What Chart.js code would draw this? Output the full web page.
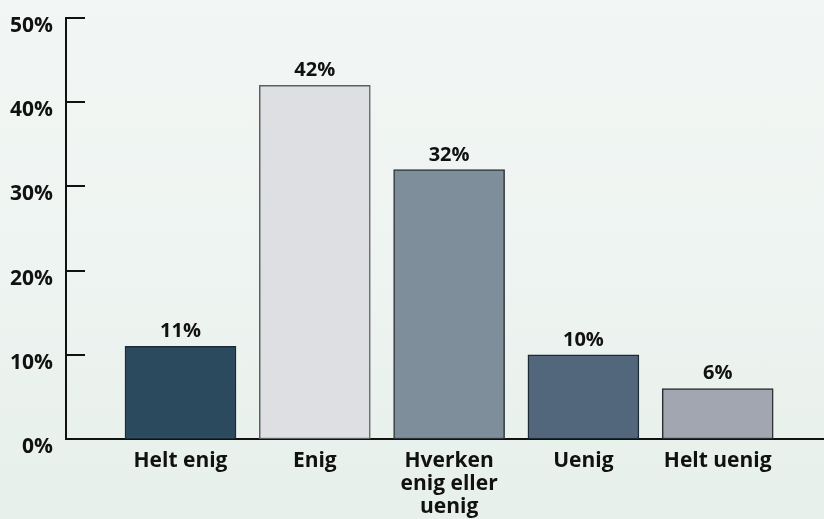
<!DOCTYPE html>
<html>
<head>
<meta charset="utf-8">
<script src="https://cdn.jsdelivr.net/npm/chart.js@4"></script>
<style>
  html, body { margin: 0; padding: 0; }
  #wrap { width: 824px; height: 519px; background: linear-gradient(to bottom, #f2f6f4 0%, #eef4f1 50%, #e7f0eb 100%); }
</style>
</head>
<body>
<div id="wrap"><canvas id="c" width="824" height="519"></canvas></div>
<script>
const categories = ["Helt enig", "Enig", "Hverken enig eller uenig", "Uenig", "Helt uenig"];
const categoryLines = [["Helt enig"], ["Enig"], ["Hverken", "enig eller", "uenig"], ["Uenig"], ["Helt uenig"]];
const values = [11, 42, 32, 10, 6];
const yTicks = [0, 10, 20, 30, 40, 50];
const barColors = ["#2c4a5e", "#dedfe3", "#7f8e9b", "#52677b", "#a1a6b1"];
const barBorders = ["#1c2a33", "#5c5f63", "#2e3438", "#1c2a33", "#2a2d30"];

const FONT = "'Open Sans', 'DejaVu Sans', sans-serif";

const innerTicks = {
  id: 'innerTicks',
  afterDraw(chart) {
    const ctx = chart.ctx, y = chart.scales.y, area = chart.chartArea;
    ctx.save();
    ctx.strokeStyle = '#111';
    ctx.lineWidth = 2;
    y.ticks.forEach(t => {
      const py = Math.round(y.getPixelForValue(t.value));
      ctx.beginPath();
      ctx.moveTo(area.left, py);
      ctx.lineTo(area.left + 19, py);
      ctx.stroke();
    });
    ctx.restore();
  }
};

const valueLabels = {
  id: 'valueLabels',
  afterDatasetsDraw(chart) {
    const ctx = chart.ctx;
    const meta = chart.getDatasetMeta(0);
    ctx.save();
    ctx.fillStyle = '#111';
    ctx.font = "bold 20px " + FONT;
    ctx.textAlign = 'center';
    ctx.textBaseline = 'alphabetic';
    meta.data.forEach((el, i) => {
      ctx.fillText(values[i] + '%', el.x, el.y - 9);
    });
    ctx.restore();
  }
};

new Chart(document.getElementById('c'), {
  type: 'bar',
  data: {
    datasets: [{
      data: values.map((v, i) => ({ x: i + 1, y: v })),
      backgroundColor: barColors,
      borderColor: barBorders,
      borderWidth: 1.5,
      borderSkipped: false,
      barThickness: 111
    }]
  },
  options: {
    responsive: false,
    animation: false,
    layout: { padding: { top: 18, right: 0, left: 0, bottom: 0 } },
    plugins: { legend: { display: false }, tooltip: { enabled: false } },
    scales: {
      x: {
        type: 'linear',
        offset: false,
        min: 0.1474,
        max: 5.7914,
        grid: { display: false, drawTicks: false, offset: false },
        border: { display: true, color: '#111', width: 2 },
        afterBuildTicks: s => { s.ticks = categories.map((c, i) => ({ value: i + 1 })); },
        afterFit: s => { s.height = 80; s.paddingLeft = 0; s.paddingRight = 0; },
        ticks: {
          autoSkip: false,
          maxRotation: 0,
          padding: 10,
          color: '#111',
          font: { family: FONT, size: 21, weight: 'bold', lineHeight: 1.1 },
          callback: (v) => { const i = Math.round(v) - 1; return categoryLines[i] || ''; }
        }
      },
      y: {
        min: 0,
        max: 50,
        grid: { display: false, drawTicks: false },
        border: { display: true, color: '#111', width: 2 },
        afterBuildTicks: s => { s.ticks = yTicks.map(v => ({ value: v })); },
        afterFit: s => { s.width = 66; s.paddingTop = 0; s.paddingBottom = 0; },
        ticks: {
          padding: 13,
          labelOffset: 8,
          color: '#111',
          font: { family: FONT, size: 21, weight: 'bold' },
          callback: v => v + '%'
        }
      }
    }
  },
  plugins: [innerTicks, valueLabels]
});
</script>
</body>
</html>
